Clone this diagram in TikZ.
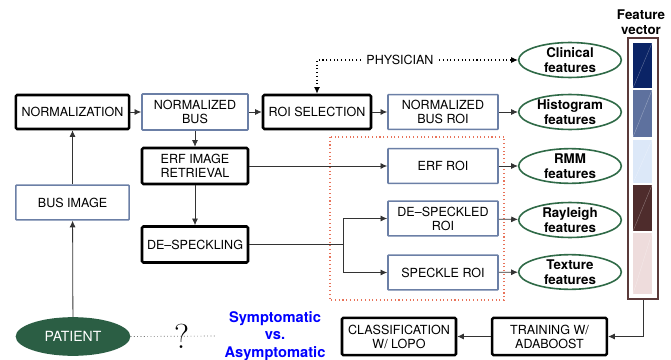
\documentclass[tikz,border=0pt]{standalone}
\usepackage{fontspec}
\setsansfont{TeX Gyre Heros}
\usetikzlibrary{shapes.geometric,arrows.meta}
\definecolor{bordeazul}{HTML}{6B7FA6}
\definecolor{verdeosc}{HTML}{2F6A47}
\definecolor{relleno}{HTML}{2B5E44}
\definecolor{marron}{HTML}{5B3A3A}
\definecolor{rojizo}{HTML}{E8735A}
\definecolor{lineagris}{HTML}{333333}
\definecolor{bloqueA}{HTML}{0B2466}
\definecolor{bloqueB}{HTML}{5E719E}
\definecolor{bloqueC}{HTML}{DCE8F8}
\definecolor{bloqueD}{HTML}{4E2C2C}
\definecolor{bloqueE}{HTML}{EEDCDC}
\tikzset{
  proc/.style={draw=black, line width=1.9pt, rounded corners=1pt, align=center,
    inner sep=1pt, font=\sffamily\fontsize{9.4}{10.5}\selectfont},
  dato/.style={draw=bordeazul, line width=1.2pt, rounded corners=0.5pt, align=center,
    inner sep=1pt, font=\sffamily\fontsize{9.4}{10.5}\selectfont},
  rasgo/.style={ellipse, draw=verdeosc, line width=1.2pt, minimum width=77pt,
    minimum height=26pt, inner sep=0pt, align=center,
    font=\sffamily\bfseries\fontsize{10}{11}\selectfont},
  flecha/.style={-{Latex[length=5pt,width=4.5pt]}, lineagris, line width=0.6pt},
}
\begin{document}
\begin{tikzpicture}[x=0.75pt,y=-0.75pt]
  \useasboundingbox (0,0) rectangle (671,360);
  % Region de ROIs
  \draw[rojizo, dotted, line width=0.8pt] (330,137) rectangle (504,300);
  % Cajas de proceso
  \node[proc, minimum width=85pt, minimum height=25.5pt] (norm) at (72.5,112) {NORMALIZATION};
  \node[dato, minimum width=79.5pt, minimum height=27pt] (nbus) at (195,112) {NORMALIZED\\BUS};
  \node[proc, minimum width=81pt, minimum height=25.5pt] (roisel) at (317,112) {ROI SELECTION};
  \node[dato, minimum width=82.5pt, minimum height=26pt] (nbroi) at (443,112) {NORMALIZED\\BUS ROI};
  \node[proc, minimum width=79.5pt, minimum height=27pt] (erfret) at (195,166) {ERF IMAGE\\RETRIEVAL};
  \node[dato, minimum width=85pt, minimum height=26pt] (busimg) at (72.5,202.5) {BUS IMAGE};
  \node[proc, minimum width=79.5pt, minimum height=27pt] (desp) at (195,244.5) {DE--SPECKLING};
  \node[dato, minimum width=82.5pt, minimum height=26pt] (erfroi) at (443,166) {ERF ROI};
  \node[dato, minimum width=82.5pt, minimum height=26pt] (dsroi) at (443,218.5) {DE--SPECKLED\\ROI};
  \node[dato, minimum width=82.5pt, minimum height=26pt] (sproi) at (443,272.5) {SPECKLE ROI};
  \node[proc, minimum width=86pt, minimum height=28pt] (train) at (549.5,336.5) {TRAINING W/\\ADABOOST};
  \node[proc, minimum width=85.5pt, minimum height=28pt] (clasif) at (399,336.5) {CLASSIFICATION\\W/ LOPO};
  % Rasgos
  \node[rasgo] (clin) at (570,60) {Clinical\\features};
  \node[rasgo] (hist) at (570,112) {Histogram\\features};
  \node[rasgo] (rmm) at (570,166) {RMM\\features};
  \node[rasgo] (rayl) at (570,220) {Rayleigh\\features};
  \node[rasgo] (textu) at (570,272) {Texture\\features};
  \node[inner sep=4pt, font=\sffamily\fontsize{9.4}{10.5}\selectfont] (phys) at (400,60) {PHYSICIAN};
  % Paciente
  \node[ellipse, fill=relleno, text=white, minimum width=86pt, minimum height=29pt,
    font=\sffamily\fontsize{10.5}{12}\selectfont] (patient) at (73,336.5) {PATIENT};
  \node[align=center, text=blue, inner sep=6pt, font=\sffamily\bfseries\fontsize{11}{13}\selectfont]
    (sympt) at (275,336) {Symptomatic\\vs.\\Asymptomatic};
  \draw[dotted, lineagris, line width=0.5pt] (patient.east) -- (sympt.west);
  \node[inner sep=0pt, font=\rmfamily\fontsize{26}{26}\selectfont] (q) at (182,336) {?};
  % Vector de rasgos
  \node[align=center, font=\sffamily\bfseries\fontsize{10}{11}\selectfont] (fvtit) at (641,22) {Feature\\vector};
  \node[draw=marron, line width=1.5pt, minimum width=22.5pt, minimum height=195.75pt, inner sep=0pt] (fv) at (643,168.5) {};
  \foreach \ya/\yb/\col in {43/88/bloqueA, 90/137/bloqueB, 140/183/bloqueC, 185/231/bloqueD, 233/294/bloqueE} {
    \fill[\col] (633,\ya) rectangle (652,\yb);
    \draw[white, opacity=.35, line width=.3pt] (633,\yb) -- (652,\ya);
  }
  % Conexiones
  \draw[flecha] (patient) -- (busimg);
  \draw[flecha] (busimg) -- (norm);
  \draw[flecha] (norm) -- (nbus);
  \draw[flecha] (nbus) -- (roisel);
  \draw[flecha] (roisel) -- (nbroi);
  \draw[flecha] (nbroi) -- (hist);
  \draw[flecha] (nbus) -- (erfret);
  \draw[flecha] (erfret) -- (desp);
  \draw[flecha] (erfret) -- (erfroi);
  \coordinate (rama) at (343,244.5);
  \draw[lineagris, line width=0.6pt] (desp.east) -- (rama);
  \draw[flecha] (rama) |- (dsroi.west);
  \draw[flecha] (rama) |- (sproi.west);
  \draw[flecha] (erfroi) -- (rmm);
  \draw[flecha] (dsroi) -- (rayl);
  \draw[flecha] (sproi) -- (textu);
  \draw[flecha] (fv.south) |- (train.east);
  \draw[flecha] (train) -- (clasif);
  % Medico
  \draw[dotted, line width=0.8pt, -{Latex[length=5pt,width=4.5pt]}] (phys.west) -| (roisel.north);
  \draw[dotted, line width=0.8pt, -{Latex[length=5pt,width=4.5pt]}] (phys.east) -- (clin.west);
\end{tikzpicture}
\end{document}
